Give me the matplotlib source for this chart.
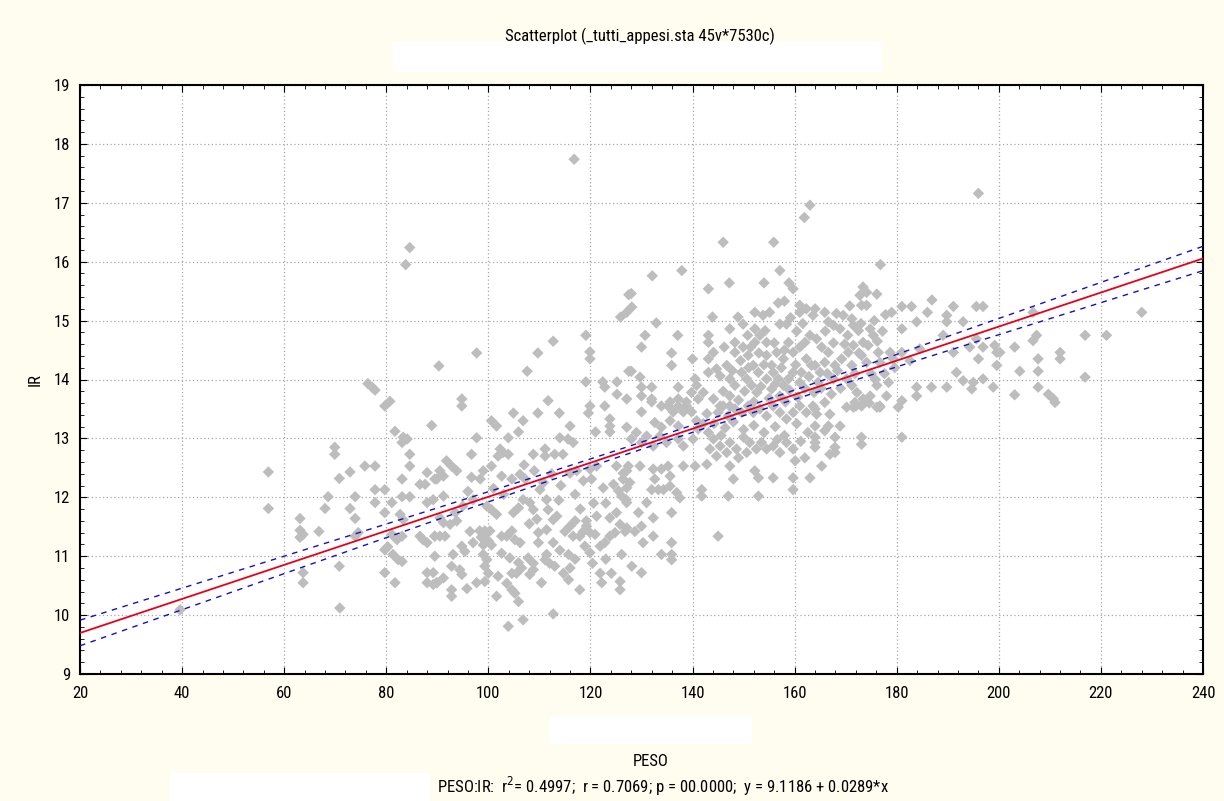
import matplotlib
matplotlib.use("Agg")
import matplotlib.pyplot as plt
import numpy as np
from matplotlib.patches import Rectangle
from matplotlib.ticker import MultipleLocator

# values (PESO, IR)
peso_low = [84.6, 83.8, 90.3, 80.7, 79.7, 56.9, 56.9, 70.9, 69.9, 69.9, 70.8, 72.9, 68.6, 68.0, 72.9, 73.9,
            73.9, 70.8, 63.1, 63.1, 63.7, 63.1, 63.7, 63.7, 66.8, 75.8, 76.4, 77.2, 77.8, 77.8, 77.8, 79.7,
            77.8, 73.9, 74.5, 79.7, 79.7, 80.3, 81.1, 81.3, 82.3, 83.1, 79.7, 81.7, 81.7, 83.3, 84.1, 83.1,
            84.6, 84.6, 83.1, 83.1, 84.6, 81.1, 82.7, 83.3, 83.1, 82.1, 88.9, 88.0, 89.5, 86.6, 87.6, 88.0,
            86.6, 87.2, 88.0, 89.5, 89.5, 88.0, 89.2, 88.0, 89.9, 39.6]
ir_low = [16.24, 15.95, 14.23, 13.63, 13.55, 12.43, 11.81, 10.12, 12.85, 12.73, 12.32, 12.43, 12.01, 11.81, 11.81, 12.01,
          11.64, 10.83, 11.64, 11.44, 11.37, 11.32, 10.72, 10.55, 11.42, 12.53, 13.93, 13.87, 13.82, 12.53, 12.13, 12.13,
          11.91, 11.34, 11.40, 11.74, 11.11, 11.16, 11.37, 11.03, 10.94, 10.91, 10.72, 10.55, 13.12, 13.02, 12.99, 12.93,
          12.73, 12.53, 12.31, 12.01, 12.01, 11.91, 11.71, 11.62, 11.34, 11.28, 13.22, 12.42, 12.31, 12.22, 12.22, 11.91,
          11.34, 11.28, 11.23, 11.34, 11.00, 10.72, 10.72, 10.55, 10.55, 10.09]

peso_mid = [116.8, 97.7, 107.6, 109.7, 112.7, 119.1, 119.9, 119.9, 125.9, 127.1, 127.5, 127.5, 119.1, 122.4, 122.8, 125.2,
            125.2, 127.1, 94.8, 94.8, 111.7, 119.9, 122.8,
            104.9, 109.7, 113.9, 119.6, 100.6, 101.6, 106.8, 123.8, 123.8, 123.8, 121.0, 116.0, 105.9, 97.7, 114.0, 115.6,
            116.6, 103.9, 102.3, 102.9, 101.9, 103.9, 111.1, 111.1, 113.0, 114.6, 108.8, 96.7, 91.8, 92.8, 89.9, 91.2,
            90.5, 93.8, 96.7, 99.0, 98.4, 100.6, 102.6, 104.6, 106.2, 107.2, 110.8, 110.1, 116.0, 117.3, 118.6, 119.9,
            120.2, 121.2, 122.5, 124.5, 125.5, 127.1, 126.1, 125.1, 126.4, 127.4, 127.7, 127.0, 91.2, 89.2, 90.5, 91.2,
            92.5, 93.5, 93.8, 89.5, 90.5, 91.5, 97.0, 99.7, 100.6, 101.6, 98.3, 99.3, 100.3, 99.3, 98.6, 100.0, 99.0,
            100.6, 97.0, 102.6, 103.6, 104.6, 105.2, 106.2, 104.9, 105.9, 106.8, 108.1, 108.8, 109.5, 111.4, 111.7, 112.7,
            113.4, 111.4, 109.8, 109.8, 112.7, 115.0, 116.0, 117.0, 116.6, 117.9, 118.6, 119.2, 119.2, 119.9, 120.9, 115.7,
            118.9, 119.9, 121.9, 122.8, 123.8, 124.8, 125.8, 127.1, 121.2, 123.8, 125.1, 126.1, 121.9, 124.1, 122.2, 125.8,
            117.9, 111.4, 111.1, 112.0, 113.0, 107.8, 108.8, 108.8, 108.1, 105.9, 106.5, 104.6, 105.5, 102.6, 104.2, 103.6,
            104.6, 105.2, 101.9, 101.6, 105.9, 103.9, 106.8, 112.7, 114.7, 116.0, 115.7, 97.7, 99.3, 99.3, 100.0, 99.7,
            99.0, 94.4, 94.8, 92.8, 91.2, 89.9, 89.2, 92.8, 92.8, 94.8, 95.4, 93.1, 96.4,
            107.0, 109.0, 112.4, 114.2, 117.0, 120.6, 123.0, 118.0, 113.8, 103.0, 101.0, 96.0, 95.0, 108.0, 114.0, 117.0,
            120.4, 123.0, 110.4, 95.8]
ir_mid = [17.74, 14.45, 14.14, 14.45, 14.65, 14.75, 14.47, 14.35, 15.06, 15.14, 15.44, 14.14, 13.96, 13.96, 13.87, 13.96,
          13.75, 13.67, 13.67, 13.55, 13.64, 13.55, 13.55,
          13.43, 13.43, 13.43, 13.43, 13.30, 13.21, 13.30, 13.33, 13.21, 13.11, 13.11, 13.21, 13.11, 13.01, 13.01, 12.99,
          12.93, 13.01, 12.82, 12.76, 12.70, 12.73, 12.82, 12.70, 12.73, 12.73, 12.73, 12.73, 12.62, 12.53, 12.31, 12.36,
          12.45, 12.45, 12.34, 12.45, 12.31, 12.53, 12.36, 12.31, 12.39, 12.31, 12.25, 12.13, 12.41, 12.45, 12.28, 12.48,
          12.31, 12.53, 12.16, 12.22, 12.11, 12.16, 12.02, 12.53, 12.41, 12.53, 12.25, 11.96, 12.02, 11.96, 11.65, 11.57,
          11.54, 11.74, 11.60, 11.34, 11.34, 11.34, 11.96, 11.85, 11.79, 11.71, 11.43, 11.43, 11.43, 11.37, 11.32, 11.26, 11.19,
          11.19, 11.23, 11.34, 11.34, 11.43, 11.28, 11.23, 11.74, 11.82, 11.96, 11.91, 11.79, 11.63, 11.96, 11.79, 11.62,
          11.68, 11.45, 11.40, 11.23, 11.23, 11.42, 11.51, 11.60, 11.34, 11.34, 11.42, 11.60, 11.51, 11.40, 11.37, 11.03,
          11.17, 11.06, 11.17, 11.23, 11.34, 11.40, 11.54, 11.48, 11.68, 11.65, 11.74, 11.03, 10.71, 10.71, 10.55, 10.57,
          10.43, 11.03, 10.94, 10.88, 10.83, 10.97, 10.88, 10.77, 10.69, 10.89, 10.80, 10.71, 10.71, 11.05, 10.97, 10.54,
          10.43, 10.37, 10.66, 10.32, 10.23, 9.81, 9.92, 10.02, 10.71, 10.80, 10.60, 10.55, 10.57, 10.83, 10.71, 10.94,
          11.03, 10.77, 10.69, 10.83, 10.63, 10.55, 10.52, 10.43, 10.32, 11.17, 11.08, 11.03, 11.42,
          12.55, 12.45, 12.40, 12.20, 12.05, 11.90, 11.90, 11.80, 11.95, 12.05, 12.15, 12.10, 11.85, 11.55, 11.10, 10.95,
          10.88, 10.95, 10.55, 10.45]

peso_high = [163.0, 161.9, 146.0, 155.9, 132.1, 137.9, 128.0, 128.1, 143.1, 147.2, 154.0, 157.1, 158.9, 159.7, 158.0, 161.0,
             161.0, 162.3, 164.0, 163.6, 143.9, 132.9, 130.7, 137.1, 130.0, 135.9, 135.9, 140.0, 128.0, 129.7, 143.1, 143.1,
             143.1, 144.1, 147.3, 148.9, 149.9, 152.2, 153.8, 155.1, 157.1, 158.4, 152.2, 153.2, 154.2, 152.2, 154.5, 148.3,
             148.3, 149.9, 150.9, 151.9, 152.9, 154.5, 155.5, 156.5, 157.8, 158.8, 159.7, 161.0, 162.0, 163.0, 162.3, 163.3,
             161.3, 154.5, 155.8, 156.8, 157.8, 158.8, 159.7, 161.0, 155.5, 157.1, 143.1, 144.7, 145.4, 146.7, 147.3, 148.3,
             149.6, 150.6, 151.6, 152.6, 140.5, 140.8, 139.8, 141.1, 142.1, 144.1, 145.4, 147.3, 147.3, 132.0, 130.0, 130.0,
             132.0, 137.2, 137.2, 135.2, 137.2, 138.8,
             130.0, 132.0, 133.9, 135.6, 136.2, 138.2, 138.8, 139.8, 127.1, 129.0, 128.0, 130.0, 131.0, 132.3, 132.6, 133.9,
             135.6, 137.2, 133.6, 134.9, 137.2, 138.2, 140.1, 141.1, 142.1, 143.1, 144.1, 145.0, 146.0, 147.0, 148.3, 149.6,
             150.9, 151.9, 153.2, 154.5, 155.8, 157.1, 158.4, 159.7, 161.0, 162.3, 163.6, 143.4, 144.7, 145.4, 146.7, 147.3,
             148.6, 149.0, 150.6, 151.2, 152.5, 153.5, 154.5, 155.8, 157.1, 158.4, 159.7, 127.1, 126.4, 129.7, 132.3, 132.6,
             133.9, 135.2, 135.6, 135.6, 138.2, 140.5, 142.8, 147.3, 148.0, 152.2, 152.9, 155.8, 159.7, 159.7, 160.1, 162.0,
             132.0, 133.3, 134.3, 136.9, 137.5, 141.8, 141.8, 147.0, 152.9, 127.1, 129.4, 131.0, 132.3, 135.9, 126.8, 128.7,
             130.0, 130.3, 132.3, 133.9, 135.9, 135.9, 135.9, 128.1, 130.0, 125.8, 145.0,
             146.0, 147.8, 149.0, 150.2, 151.0, 152.0, 153.4, 154.0, 155.0, 156.2, 157.4, 158.2, 159.0, 160.2, 160.6, 162.0,
             162.8, 163.8, 164.6, 149.4, 151.4, 153.0, 156.0, 158.0, 160.4, 161.6, 159.2, 156.8, 150.8, 146.2,
             140.8, 142.8, 144.2, 146.4, 148.0, 150.0, 152.0, 154.0, 156.2, 158.0, 160.4, 162.6, 161.2, 156.6, 150.0, 145.6]
ir_high = [16.96, 16.75, 16.33, 16.33, 15.76, 15.85, 15.46, 15.23, 15.54, 15.64, 15.64, 15.85, 15.64, 15.54, 15.33, 15.26,
           15.14, 15.20, 15.20, 15.09, 15.06, 14.96, 14.75, 14.75, 14.55, 14.45, 14.24, 14.35, 14.14, 14.04, 14.75, 14.63,
           14.35, 14.46, 14.86, 15.06, 14.94, 15.14, 15.09, 15.14, 14.94, 14.94, 14.86, 14.75, 14.83, 14.63, 14.63, 14.63,
           14.46, 14.55, 14.41, 14.24, 14.12, 14.41, 14.24, 14.46, 14.35, 14.63, 14.46, 14.55, 14.63, 14.75, 14.35, 14.24,
           14.12, 14.01, 14.12, 14.01, 13.90, 14.01, 14.12, 13.95, 13.84, 13.72, 14.12, 14.18, 14.06, 14.24, 14.01, 13.90,
           14.12, 14.01, 13.90, 13.78, 14.01, 13.90, 13.78, 13.67, 13.78, 13.67, 13.55, 13.72, 13.55, 13.87, 13.87, 13.72,
           13.67, 13.87, 13.67, 13.55, 13.55, 13.55,
           13.45, 13.62, 13.55, 13.62, 13.45, 13.45, 13.62, 13.45, 13.19, 13.10, 12.99, 12.93, 13.04, 12.87, 13.27, 13.19,
           13.30, 13.21, 13.04, 12.93, 12.99, 12.87, 12.99, 13.16, 13.25, 13.10, 12.99, 13.44, 13.55, 13.38, 13.50, 13.44,
           13.55, 13.44, 13.50, 13.38, 13.55, 13.44, 13.33, 13.44, 13.55, 13.44, 13.55, 12.82, 12.70, 12.87, 12.76, 12.93,
           12.82, 12.67, 12.76, 12.93, 12.82, 12.93, 12.82, 12.87, 12.76, 12.93, 12.82, 12.45, 12.31, 12.53, 12.48, 12.31,
           12.48, 12.53, 12.36, 12.19, 12.53, 12.53, 12.56, 12.53, 12.31, 12.45, 12.33, 12.33, 12.33, 12.13, 12.62, 12.67,
           12.13, 12.13, 12.13, 12.08, 11.99, 12.13, 12.02, 12.02, 12.02, 11.91, 11.74, 11.91, 11.65, 11.74, 11.42, 11.42,
           11.51, 11.23, 11.34, 11.03, 11.23, 11.03, 10.94, 10.83, 10.72, 10.43, 11.34,
           13.80, 14.15, 13.65, 13.80, 14.20, 13.62, 13.88, 14.25, 13.68, 13.92, 14.20, 13.62, 13.82, 14.25, 13.70, 13.85,
           14.05, 13.78, 13.95, 14.32, 14.55, 14.45, 14.62, 14.50, 14.82, 14.95, 15.05, 15.30, 14.75, 14.55,
           13.30, 13.42, 13.25, 13.18, 13.28, 13.15, 13.22, 13.10, 13.20, 13.05, 13.25, 13.10, 12.95, 12.98, 13.02, 13.05]

peso_right = [196.0, 176.8, 173.4, 174.1, 172.8, 176.1, 173.1, 174.1, 179.0, 181.0, 182.9, 186.9, 186.0, 191.1, 195.6, 196.9,
              189.8, 189.8, 193.0, 183.9, 181.0, 165.9, 166.6, 167.6, 168.9, 169.5, 171.2, 171.5, 172.5, 174.8, 175.4, 173.4,
              174.4, 171.5, 170.5, 169.2, 171.2, 173.1, 174.1, 176.4, 176.7, 164.3, 165.3, 166.6, 165.9, 167.9, 164.0, 165.0,
              167.6, 170.2, 171.2, 172.2, 173.4, 174.8, 176.1, 178.0, 176.7, 191.7, 193.0, 195.0, 194.7, 196.9, 198.9, 183.9,
              183.9, 186.8, 189.8, 199.6, 199.2, 195.6, 196.9, 191.1, 194.3, 196.0, 199.6, 181.0, 178.7, 179.3, 182.6, 184.5,
              189.1, 164.0, 165.9, 164.3, 166.9, 164.0, 165.9, 166.6, 168.9, 167.9, 164.0, 164.0, 164.0, 166.9, 167.9, 167.9,
              165.3, 163.0, 170.2, 171.5, 171.8, 173.1, 173.8, 176.1, 176.7, 180.3, 181.0, 173.1, 173.1, 181.0, 228.0, 216.9,
              221.1, 207.4, 206.7, 203.1, 200.2, 212.0, 212.0, 207.7, 204.1, 207.7, 216.9, 203.1, 207.7, 209.7, 210.7, 211.0,
              206.7,
              165.2, 166.4, 167.2, 168.4, 169.0, 169.8, 170.4, 171.8, 172.6, 173.0, 175.0, 175.8, 176.2, 177.2, 177.6, 178.4,
              179.6, 166.0, 167.6, 168.2, 170.8, 172.0, 174.6, 177.8, 175.6]
ir_right = [17.16, 15.95, 15.57, 15.48, 15.43, 15.45, 15.26, 15.26, 15.14, 15.24, 15.24, 15.35, 15.14, 15.24, 15.24, 15.24,
            15.09, 14.98, 14.98, 14.98, 14.86, 15.14, 14.98, 14.92, 14.86, 15.09, 15.03, 14.92, 14.83, 14.86, 14.75, 14.63,
            14.58, 14.58, 14.46, 14.35, 14.24, 14.41, 14.29, 14.46, 14.29, 14.69, 14.55, 14.46, 14.29, 14.24, 14.24, 14.12,
            14.01, 14.01, 13.90, 13.78, 13.67, 13.72, 13.90, 13.72, 13.55, 14.12, 13.98, 13.95, 13.84, 14.01, 13.87, 13.87,
            13.72, 13.87, 13.87, 14.46, 14.58, 14.69, 14.55, 14.46, 14.55, 14.35, 14.24, 14.46, 14.46, 14.35, 14.32, 14.52,
            14.75, 13.50, 13.61, 13.41, 13.41, 13.21, 13.13, 13.21, 13.21, 13.02, 13.02, 12.93, 12.85, 12.73, 12.85, 12.76,
            12.53, 12.33, 13.53, 13.53, 13.61, 13.55, 13.64, 13.53, 13.53, 13.53, 13.64, 13.02, 12.90, 13.02, 15.14, 14.75,
            14.75, 14.75, 14.66, 14.55, 14.46, 14.46, 14.35, 14.35, 14.14, 14.14, 14.04, 13.74, 13.87, 13.75, 13.67, 13.61,
            15.14,
            13.85, 14.10, 13.75, 14.15, 13.85, 14.60, 14.75, 14.10, 14.45, 14.95, 14.10, 14.00, 14.65, 14.82, 14.10, 13.95,
            14.20, 14.82, 14.62, 15.12, 15.25, 13.55, 13.60, 15.10, 15.00]

# fitted line printed under the chart
intercept = 9.1186
slope = 0.0289
# half-width of the 95% band, read at the ends and at the centre of the cloud
band_center = 133.0
band_min = 0.06
band_slope = 0.00185

title = "Scatterplot (_tutti_appesi.sta 45v*7530c)"
stats = "PESO:IR:  r$^2$= 0.4997;  r = 0.7069; p = 00.0000;  y = 9.1186 + 0.0289*x"

W, H = 1224, 801
BG = "#FFFDF0"
font = ["Liberation Sans Narrow", "Roboto Condensed", "Liberation Sans", "DejaVu Sans"]
plt.rcParams["font.family"] = font
plt.rcParams["font.stretch"] = "condensed"

peso = np.array(peso_low + peso_mid + peso_high + peso_right)
ir = np.array(ir_low + ir_mid + ir_high + ir_right)

fig = plt.figure(figsize=(W / 100, H / 100), dpi=100, facecolor=BG)
ax = fig.add_axes([80 / W, 1 - 674 / H, (1203 - 80) / W, (674 - 85) / H])
ax.set_facecolor("white")

ax.scatter(peso, ir, marker="D", s=34, color="#BDBDBD", edgecolors="none", zorder=2)

xs = np.linspace(20, 240, 200)
fit = intercept + slope * xs
hw = np.sqrt(band_min ** 2 + (band_slope * (xs - band_center)) ** 2)
ax.plot(xs, fit, color="#E8001C", lw=1.3, zorder=4)
ax.plot(xs, fit + hw, color="#1010C8", lw=1.0, ls=(0, (4, 4)), zorder=3)
ax.plot(xs, fit - hw, color="#1010C8", lw=1.0, ls=(0, (4, 4)), zorder=3)

ax.set_xlim(20, 240)
ax.set_ylim(9, 19)
ax.xaxis.set_major_locator(MultipleLocator(20))
ax.xaxis.set_minor_locator(MultipleLocator(4))
ax.yaxis.set_major_locator(MultipleLocator(1))
ax.yaxis.set_minor_locator(MultipleLocator(0.2))
ax.grid(True, which="major", color="#A8A8A8", ls=(0, (1, 2)), lw=0.9, zorder=1)
ax.tick_params(which="both", direction="in", top=True, right=True, labelsize=12, colors="black")
ax.tick_params(axis="x", pad=9)
ax.tick_params(axis="y", pad=7)
ax.tick_params(which="major", length=5)
ax.tick_params(which="minor", length=3)
for sp in ax.spines.values():
    sp.set_linewidth(1.5)

ax.set_ylabel("IR", fontsize=12, labelpad=8)

fig.text(640 / W, 1 - 36 / H, title, ha="center", va="center", fontsize=12)
fig.add_artist(Rectangle((393 / W, 1 - 72 / H), (882 - 393) / W, 30 / H, transform=fig.transFigure,
                         facecolor="white", edgecolor="none"))
fig.add_artist(Rectangle((550 / W, 1 - 744 / H), (752 - 550) / W, 28 / H, transform=fig.transFigure,
                         facecolor="white", edgecolor="none"))
fig.text(651 / W, 1 - 762 / H, "PESO", ha="center", va="center", fontsize=12)
fig.add_artist(Rectangle((170 / W, 1 - 801 / H), (430 - 170) / W, 28 / H, transform=fig.transFigure,
                         facecolor="white", edgecolor="none"))
fig.text(437 / W, 1 - 786 / H, stats, ha="left", va="center", fontsize=12)

fig.savefig("out.png", dpi=100, facecolor=BG)
